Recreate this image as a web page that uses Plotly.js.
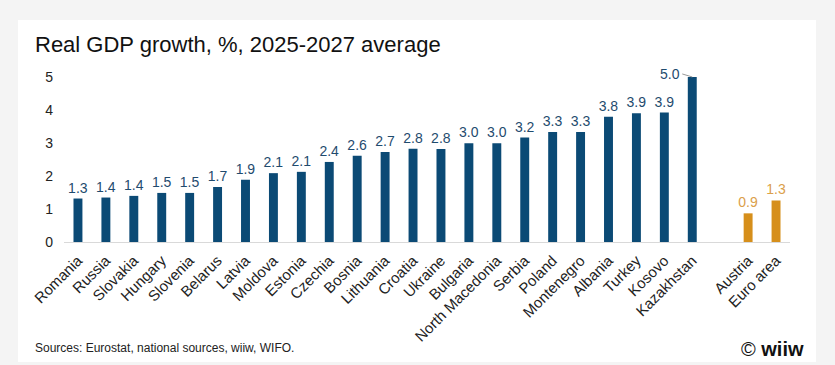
<!DOCTYPE html>
<html>
<head>
<meta charset="utf-8">
<script src="https://cdn.plot.ly/plotly-3.0.1.min.js"></script>
<style>
html,body{margin:0;padding:0;background:#f4f4f4;}
#chart{width:835px;height:365px;}
</style>
</head>
<body>
<div id="chart"></div>
<script>
// Data
const countries = ["Romania","Russia","Slovakia","Hungary","Slovenia","Belarus","Latvia","Moldova","Estonia","Czechia","Bosnia","Lithuania","Croatia","Ukraine","Bulgaria","North Macedonia","Serbia","Poland","Montenegro","Albania","Turkey","Kosovo","Kazakhstan"];
const countryValues = [1.32,1.35,1.40,1.49,1.49,1.67,1.89,2.09,2.13,2.43,2.62,2.73,2.83,2.82,3.00,3.00,3.17,3.34,3.34,3.80,3.91,3.93,5.01];
const benchmarks = ["Austria","Euro area"];
const benchmarkValues = [0.87,1.26];
const spacer = " ";
const categoryOrder = countries.concat([spacer]).concat(benchmarks);

const BLUE = "#0b4a75", ORANGE = "#d68f1b";
const FONT = "Liberation Sans, Arial, sans-serif";

// the largest value gets its label to the left with a short leader line
const maxIdx = countryValues.indexOf(Math.max(...countryValues));
const countryText = countryValues.map((v,i)=> i===maxIdx ? "" : v.toFixed(1));

const traces = [
  {type:"bar", x:countries, y:countryValues, marker:{color:BLUE},
   text:countryText, texttemplate:"%{text}", textposition:"outside", cliponaxis:false, constraintext:"none",
   textfont:{family:FONT,size:14,color:"#1f4b6e"}, hoverinfo:"x+y"},
  {type:"bar", x:benchmarks, y:benchmarkValues, marker:{color:ORANGE},
   texttemplate:"%{y:.1f}", textposition:"outside", cliponaxis:false, constraintext:"none",
   textfont:{family:FONT,size:14,color:"#dba04a"}, hoverinfo:"x+y"}
];

const L=64, R=45, T=74, B=123, W=835, H=365;
const pw = W-L-R, ph = H-T-B;
const px = x => (x-L)/pw;
const py = y => (H-B-y)/ph;

const layout = {
  width:W, height:H,
  margin:{l:L, r:R, t:T, b:B},
  paper_bgcolor:"#f4f4f4", plot_bgcolor:"rgba(0,0,0,0)",
  showlegend:false, barmode:"overlay", bargap:0.68,
  font:{family:FONT, color:"#222"},
  xaxis:{type:"category", categoryorder:"array", categoryarray:categoryOrder,
    tickangle:-45, tickfont:{family:FONT,size:15,color:"#222"}, ticklabelstandoff:3,
    showline:true, linecolor:"#d9d9d9", linewidth:1, ticks:"", showgrid:false, zeroline:false, fixedrange:true},
  yaxis:{range:[0,5.1], tickvals:[0,1,2,3,4,5], showgrid:false, zeroline:false, showline:false,
    ticks:"", ticklabelstandoff:10, tickfont:{family:FONT,size:14,color:"#222"}, fixedrange:true},
  shapes:[{type:"rect", xref:"paper", yref:"paper", x0:px(18), x1:px(816), y0:py(362), y1:py(20),
    fillcolor:"#ffffff", line:{width:0}, layer:"below"}],
  annotations:[
    {xref:"paper", yref:"paper", x:px(33), y:py(45), xanchor:"left", yanchor:"middle", showarrow:false,
     text:"Real GDP growth, %, 2025-2027 average", font:{family:FONT,size:22,color:"#111"}},
    {xref:"paper", yref:"paper", x:px(33), y:py(348), xanchor:"left", yanchor:"middle", showarrow:false,
     text:"Sources: Eurostat, national sources, wiiw, WIFO.", font:{family:FONT,size:12,color:"#222"}},
    {xref:"paper", yref:"paper", x:px(806), y:py(349), xanchor:"right", yanchor:"middle", showarrow:false,
     text:"<span style='font-weight:normal'>©</span> <b>wiiw</b>", font:{family:FONT,size:20,color:"#111"}},
    {x:countries[maxIdx], y:countryValues[maxIdx], xref:"x", yref:"y",
     text:countryValues[maxIdx].toFixed(1), showarrow:true, arrowhead:0, arrowwidth:1, arrowcolor:"#999",
     ax:-10, ay:-3, xanchor:"right", font:{family:FONT,size:14,color:"#1f4b6e"}}
  ]
};

Plotly.newPlot("chart", traces, layout, {displayModeBar:false, staticPlot:true});
</script>
</body>
</html>
